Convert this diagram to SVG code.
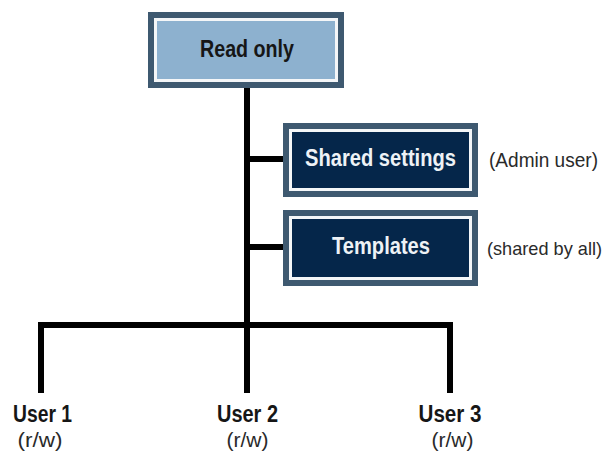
<svg xmlns="http://www.w3.org/2000/svg" width="612" height="454" viewBox="0 0 612 454">
<style>
.frame{fill:#3e5970}
.gap{fill:#f4f6f8}
.navy{fill:#05264a}
.light{fill:#8db1cf}
.lbl{font-family:"Liberation Sans",Arial,sans-serif;font-weight:bold;font-size:23px;text-anchor:middle}
.note{font-family:"Liberation Sans",Arial,sans-serif;font-size:21px;fill:#2a2a2a}
.conn{fill:none;stroke:#000;stroke-width:6;stroke-linejoin:miter;stroke-linecap:butt}
</style>
<rect width="612" height="454" fill="#fff"/>
<g id="connectors">
<path class="conn" d="M247 88 V393"/>
<path class="conn" d="M247 159 H283"/>
<path class="conn" d="M247 247 H283"/>
<path class="conn" d="M41 393 V325 H450 V393"/>
</g>
<g id="read-only">
<rect class="frame" x="148" y="12" width="196" height="76"/>
<rect class="gap" x="154" y="18" width="184" height="64"/>
<rect class="light" x="157" y="21" width="178" height="58"/>
<text class="lbl" x="247" y="57" fill="#161616" textLength="94" lengthAdjust="spacingAndGlyphs">Read only</text>
</g>
<g id="shared-settings">
<rect class="frame" x="283" y="123" width="195" height="74"/>
<rect class="gap" x="289" y="129" width="183" height="62"/>
<rect class="navy" x="292" y="132" width="177" height="56"/>
<text class="lbl" x="380.5" y="166" fill="#eef2f6" textLength="151" lengthAdjust="spacingAndGlyphs">Shared settings</text>
</g>
<text class="note" x="489" y="167" textLength="109" lengthAdjust="spacingAndGlyphs">(Admin user)</text>
<g id="templates">
<rect class="frame" x="283" y="210" width="195" height="76"/>
<rect class="gap" x="289" y="216" width="183" height="64"/>
<rect class="navy" x="292" y="219" width="177" height="58"/>
<text class="lbl" x="381" y="254" fill="#eef2f6" textLength="98" lengthAdjust="spacingAndGlyphs">Templates</text>
</g>
<text class="note" x="487" y="255" font-size="19" style="font-size:19px" textLength="115" lengthAdjust="spacingAndGlyphs">(shared by all)</text>
<g id="user1">
<text class="lbl" x="42.5" y="422" fill="#161616" textLength="59" lengthAdjust="spacingAndGlyphs">User 1</text>
<text class="note" x="40" y="447" text-anchor="middle" textLength="45" lengthAdjust="spacingAndGlyphs">(r/w)</text>
</g>
<g id="user2">
<text class="lbl" x="247.5" y="422" fill="#161616" textLength="61" lengthAdjust="spacingAndGlyphs">User 2</text>
<text class="note" x="247.5" y="447" text-anchor="middle" textLength="42" lengthAdjust="spacingAndGlyphs">(r/w)</text>
</g>
<g id="user3">
<text class="lbl" x="450" y="422" fill="#161616" textLength="63" lengthAdjust="spacingAndGlyphs">User 3</text>
<text class="note" x="452.5" y="447" text-anchor="middle" textLength="42" lengthAdjust="spacingAndGlyphs">(r/w)</text>
</g>
</svg>
